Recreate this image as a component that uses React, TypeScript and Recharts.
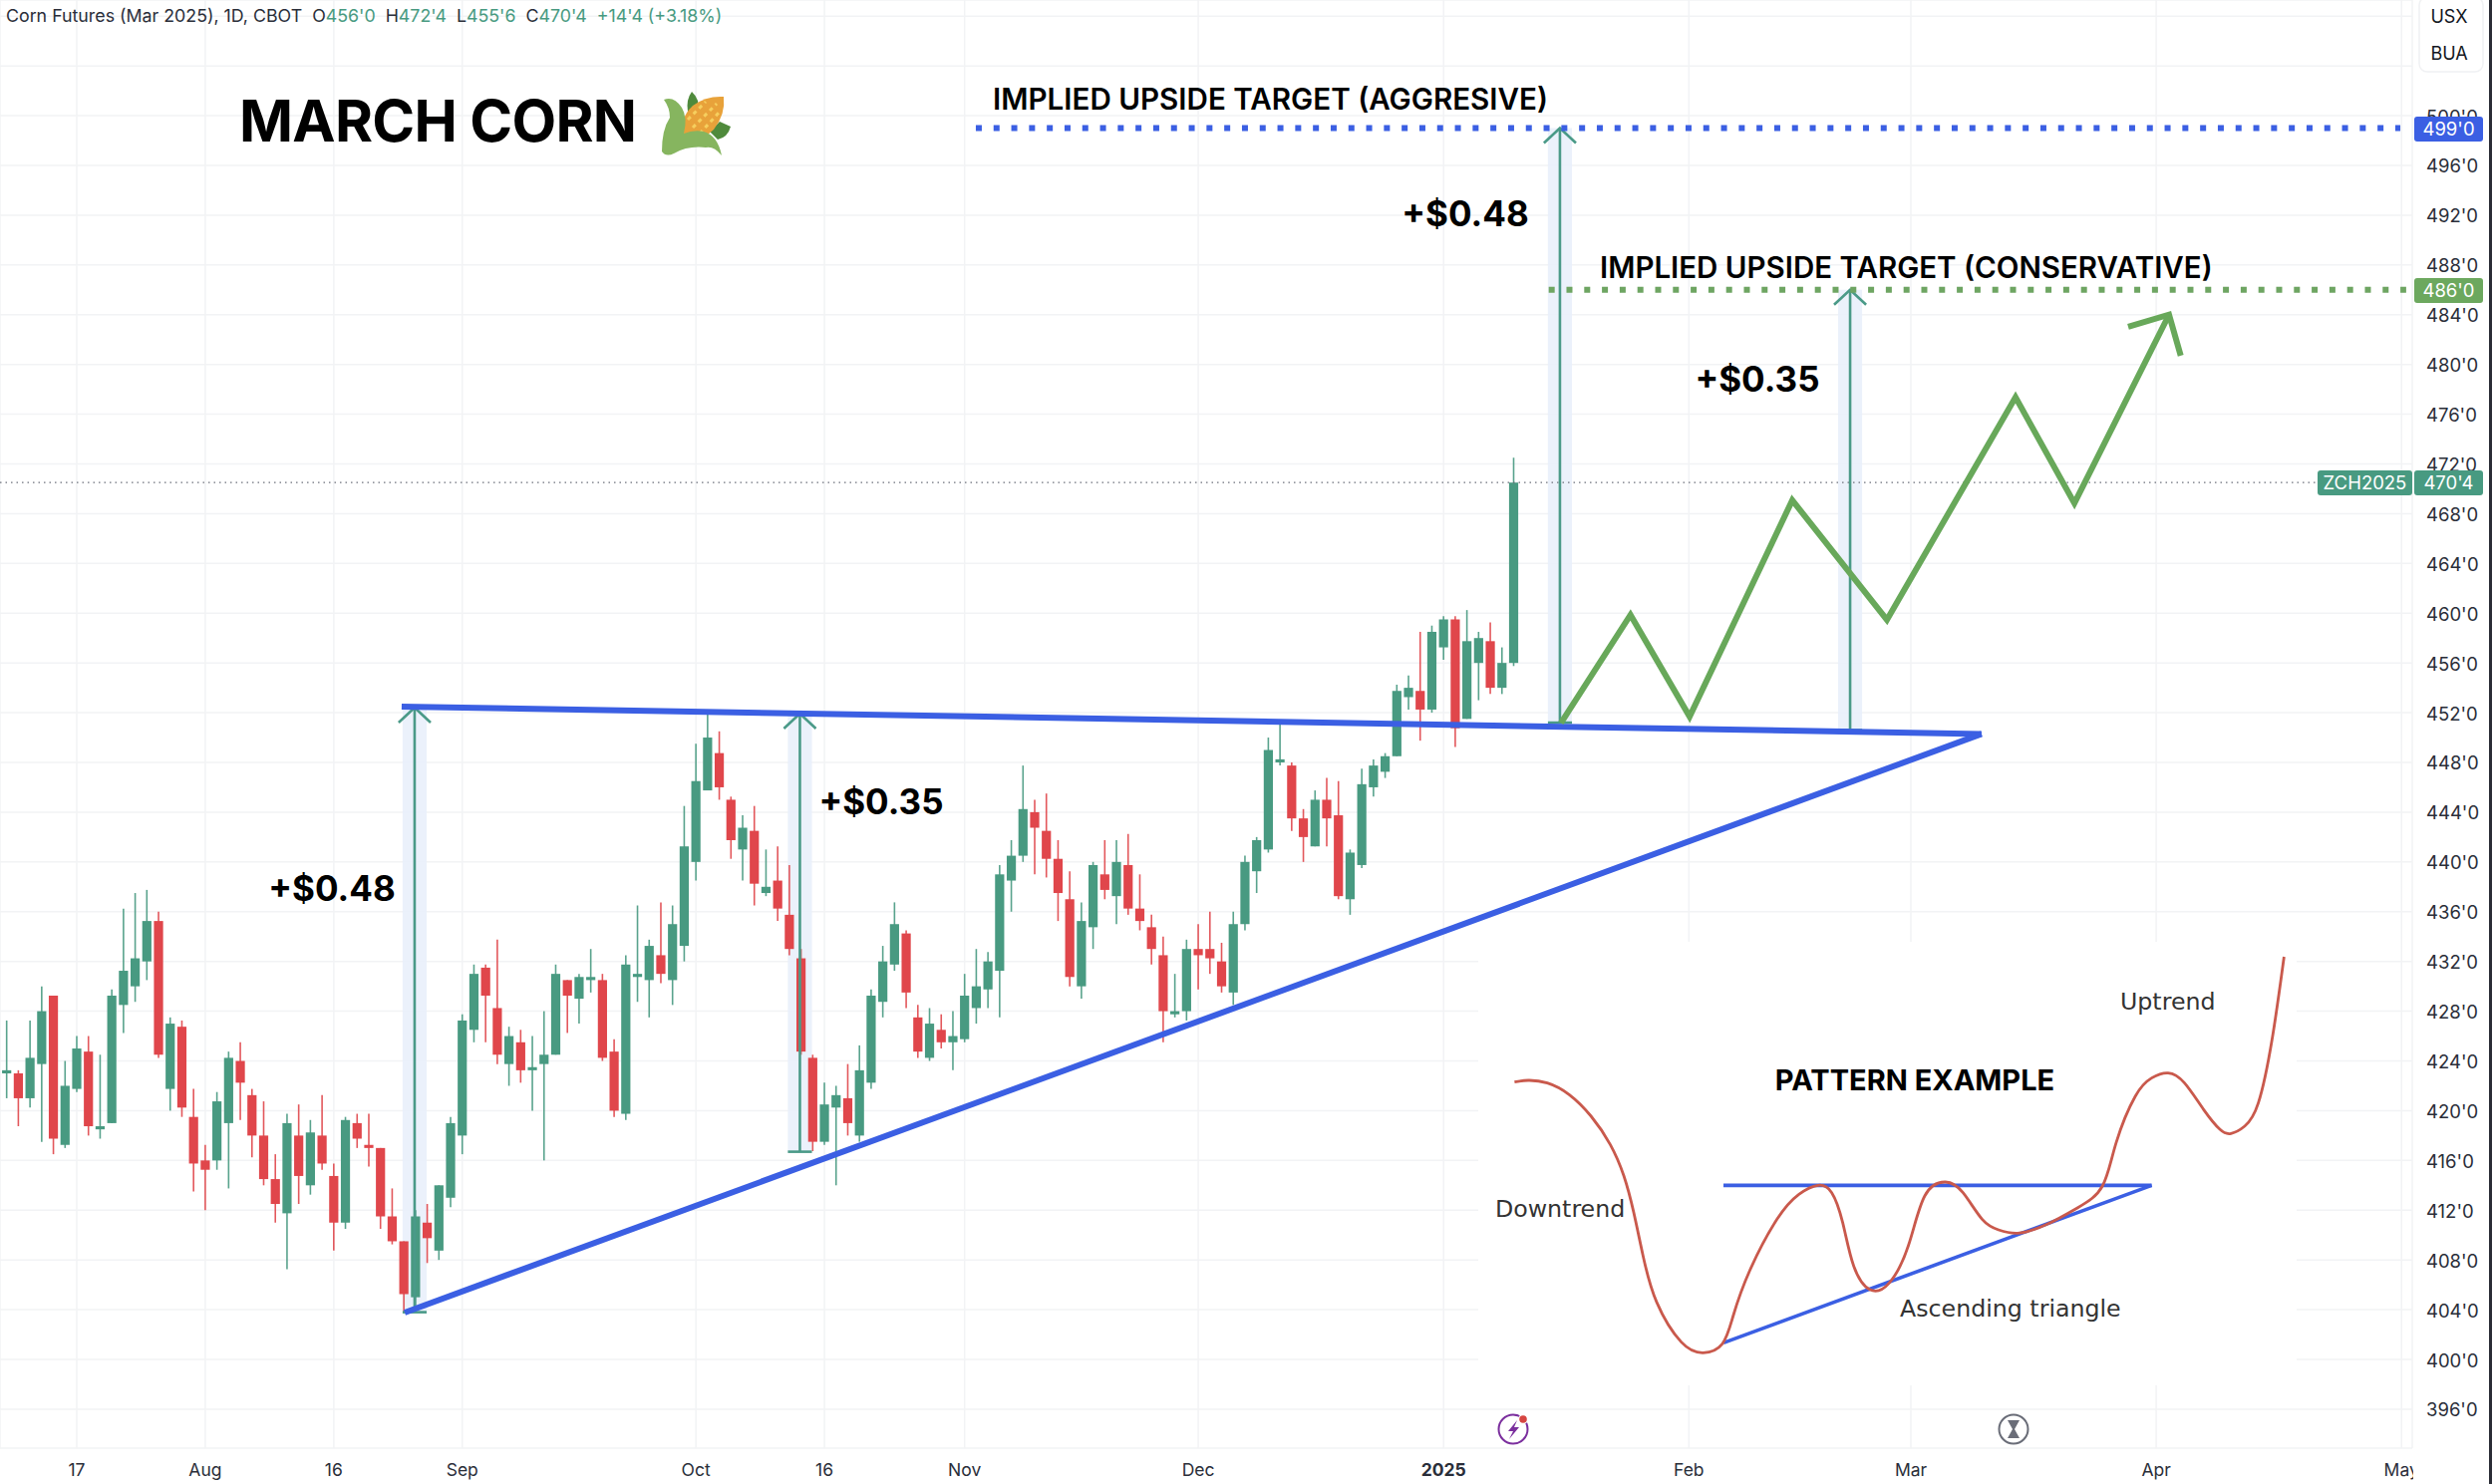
import React from 'react';
import { ComposedChart, LineChart, Line, Bar, XAxis, YAxis, CartesianGrid, ReferenceArea } from 'recharts';

const opens = [423,423,421,423.75,429.25,417.25,421.75,424.75,418.5,419,
428.5,430,432,435.25,421.75,426.75,419.5,416,416,419,
424,421.25,418,414.5,411.75,418,414,418,414.75,411,
419,417.25,417,411.5,409.5,405,411,408.75,413,418,
426.5,431.5,428.25,423.75,425.5,423.25,423.75,424.5,430.5,429,
430.5,430.5,424.75,419.75,430.75,430.5,432.5,430.5,433.25,440,
445.75,448.75,445,441,442.5,437.5,438.5,435.75,432.25,424.25,
417.5,420.25,421,418,422.25,428.75,431.75,434.25,427.5,424.25,
426.5,425.5,425.75,428.25,429.75,431.25,438.5,440.5,444,442.5,
440.25,437,430,434.75,439,437.25,439.75,436.25,434.75,432.5,
427.75,428,433,433,432,429.5,435,439.25,441,448,
447.75,443.5,441.25,445,443.75,437,439.75,446,447.25,448.5,
453.25,453.75,452.25,457.25,459.5,451.5,456,457.75,454,456];
const closes = [423.25,421,424.25,428,417.75,422,425,418.75,418.75,429.25,
431.25,432.25,435.25,424.5,427,420.25,415.75,415.25,420.75,424.25,
422.25,418,414.5,412.5,419,414.75,418.25,415.75,411,419.25,
417.75,417,411.5,409.5,405.25,411.5,409.75,414,419,427.25,
431,429.25,424.5,426,423.25,423.5,424.5,431,429.25,430.75,
430.75,424.25,420,431.75,431,433.25,431,435,441.25,446.5,
450,446,441.75,442.75,438.25,438,436.25,433,424.75,417.5,
420.5,421.25,419,423.25,429.25,432,435,429.5,424.75,427,
425.5,426,429.25,430,432,439,440.5,444.25,442.75,440.25,
437.5,430.75,435.25,439.75,437.75,440,436.25,435.25,433,428,
428,433,432.5,432.25,430,435,440,441.75,449,448.25,
443.5,442,445,443.5,437.25,440.75,446.25,447.75,448.5,453.75,
454,452.25,458.5,459.5,450.75,457.75,458,454,456,470.5];
const highs = [427.25,423.25,427.25,430,429.25,424,426,426,424.5,429.75,
436.25,437.5,437.75,436,427.5,427.25,421.75,417.25,421.5,424.75,
425.5,421.75,420.75,416.5,419.75,420.5,419.25,421.25,415.75,419.5,
419.75,419.75,417,413.75,409.5,412,412.5,414,419.5,427.75,
431.75,431.75,433.75,426.75,426.5,426,428,431.75,430.5,431,
433,431,425.75,432.5,436.5,433.75,436.75,436.5,444.5,449.5,
452,450.5,445.25,443.75,444.5,441,441.25,439.75,433,424.5,
422.25,422,423.75,425.25,429.75,433.25,436.75,434.5,428.5,428.25,
427.75,428,431,433,432.75,439.75,441.75,447.75,445,445.5,
441.75,439.25,436.75,440,441.75,441.75,442.25,439,435.75,434,
431,433.75,435,436,433.5,436,440.5,442,450,451.25,
448,444.25,445.75,446.75,446.5,441,447.5,448.25,448.75,454.25,
455,458.5,459,459.75,459.75,460.25,458.5,459.25,457.25,472.5];
const lows = [421,418.75,420.25,417.5,416.5,417,421.5,418,417.75,419,
426.25,428.75,430.5,424.25,420,419.5,413.5,412,415.25,413.75,
419.25,416.25,414,411,407.25,412.5,413.25,415.25,408.75,410.5,
417,415.5,410.5,409.25,403.75,404,407.75,408,412.25,416.5,
425.5,425.5,423.75,422,422.25,420,416,424.5,426.25,427,
429.5,424,419.5,419.25,428.75,427.5,430.25,428.5,432,438.5,
445.75,445,440.25,438.5,436.5,437.25,435.25,432.5,424.5,416.75,
417.25,414,418,417.5,421.75,427.5,431.25,428.25,424.25,424,
425,423.25,425.5,427,428.25,427.5,436,440,439,438.75,
435.25,430,429,433,437,435,435.75,434.5,431.75,425.5,
427.5,427.25,429.75,431,429.5,428.5,434.5,437.5,440.75,447.75,
442.5,440,441.25,441.25,437,435.75,439.5,445.25,446.75,448.5,
452.25,449.75,452,456.25,449.25,451.5,453,453.5,453.5,455.75];

const candles = opens.map((open, idx) => ({ idx, open, close: closes[idx], high: highs[idx], low: lows[idx] }));

const timeTicks = [6, 17, 28, 39, 59, 70, 82, 102, 123, 144, 163, 184, 205];
const timeLabels = ['17', 'Aug', '16', 'Sep', 'Oct', '16', 'Nov', 'Dec', '2025', 'Feb', 'Mar', 'Apr', 'May'];
const priceTicks = [396,400,404,408,412,416,420,424,428,432,436,440,444,448,452,456,460,464,468,472,476,480,484,488,492,496,500,504,508];
const topLabelledPrice = 500;

// Drawn annotations, in bar index and price
const resistance = [{ idx: 33.81, p: 452.49 }, { idx: 169.05, p: 450.29 }];
const support = [{ idx: 34.07, p: 403.77 }, { idx: 169.05, p: 450.29 }];
const zigzag = [
  { idx: 133.05, p: 451.17 }, { idx: 139, p: 459.86 }, { idx: 144.06, p: 451.69 }, { idx: 152.85, p: 469.08 },
  { idx: 160.95, p: 459.46 }, { idx: 171.96, p: 477.36 }, { idx: 177, p: 468.84 }, { idx: 185.1, p: 484 },
];
const zigzagHead = [{ idx: 181.6, p: 483.02 }, { idx: 185.1, p: 484 }, { idx: 186.1, p: 480.7 }];
const aggressiveTarget = [{ idx: 82.96, p: 499 }, { idx: 204.9, p: 499 }];
const conservativeTarget = [{ idx: 132, p: 486 }, { idx: 205.4, p: 486 }];
const lastPrice = [{ idx: -0.57, p: 470.5 }, { idx: 197.8, p: 470.5 }];
const measures = [
  { idx: 34.92, top: 452.4, bottom: 403.8 },
  { idx: 67.9, top: 451.93, bottom: 416.7 },
  { idx: 132.96, top: 499, bottom: 451.2 },
  { idx: 157.8, top: 486, bottom: 450.6 },
];

// Inset sketch
const sketchX = [90,115,150,190,230,265,290,308,325,350,395,435,470,490,520,570,610,645,670,690,710,740,775,810,840,878,910,945,975,1010,1060,1120,1165,1190,1225,1255,1285,1315,1350,1380,1400,1425,1450,1475,1497];
const sketchY = [407,402,410,445,510,595,690,800,930,1070,1190,1222,1195,1110,975,820,745,718,740,830,960,1032,1012,900,750,708,740,820,852,862,838,785,720,590,450,395,380,410,490,550,562,540,470,280,30];
const sketch = sketchX.map((x, i) => ({ x, y: sketchY[i] }));
const sketchTop = [{ x: 472, y: 718 }, { x: 1255, y: 718 }];
const sketchBase = [{ x: 472, y: 1192 }, { x: 1255, y: 718 }];

const GREEN = '#489a81';
const RED = '#e0464b';
const BLUE = '#3b5fe3';
const DRAW_GREEN = '#68a85a';
const TEAL = '#4a9a88';
const FONT = 'Inter, sans-serif';
const BODY_WIDTH = 9.2;

function Candle(props: any) {
  const { x, y, width, height, payload } = props;
  const { open, close, high, low } = payload;
  const perUnit = height / (high - low || 1);
  const at = (v: number) => y + (high - v) * perUnit;
  const color = close >= open ? GREEN : RED;
  const top = at(Math.max(open, close));
  const bottom = at(Math.min(open, close));
  const cx = x + (width || 0) / 2;
  return (
    <g>
      <line x1={cx} x2={cx} y1={y} y2={y + height} stroke={color} strokeWidth={1.6} opacity={0.9} />
      <rect x={cx - BODY_WIDTH / 2} y={top} width={BODY_WIDTH} height={Math.max(bottom - top, 2)} fill={color} />
    </g>
  );
}

function TimeTick(props: any) {
  const { x, payload } = props;
  const label = timeLabels[timeTicks.indexOf(payload.value)];
  return (
    <text x={x} y={1481} textAnchor="middle" fontFamily={FONT} fontSize={17.5} fontWeight={label === '2025' ? 700 : 400} fill="#2a2e39">
      {label}
    </text>
  );
}

function PriceTick(props: any) {
  const { x, y, payload } = props;
  if (payload.value > topLabelledPrice) return <g />;
  return (
    <text x={x} y={y + 7.5} fontFamily={FONT} fontSize={18.5} fill="#2a2e39">{`${payload.value}'0`}</text>
  );
}

const seg = (key: string, data: any[], stroke: string, strokeWidth: number, extra: any = {}) => (
  <Line key={key} data={data} dataKey="p" type="linear" dot={false} stroke={stroke} strokeWidth={strokeWidth} isAnimationActive={false} legendType="none" {...extra} />
);

function Pill({ x, y, w, h, fill, text }: any) {
  return (
    <g>
      <rect x={x} y={y} width={w} height={h} rx={3} fill={fill} />
      <text x={x + w / 2} y={y + h / 2 + 6.5} textAnchor="middle" fontFamily={FONT} fontSize={18.5} fill="#fff">{text}</text>
    </g>
  );
}

function Note({ x, y, size = 35, weight = 700, anchor = 'middle', fill = '#000', family = FONT, spacing = 0, children }: any) {
  return <text x={x} y={y} textAnchor={anchor} fontFamily={family} fontSize={size} fontWeight={weight} fill={fill} letterSpacing={spacing}>{children}</text>;
}

export default function App() {
  return (
    <div style={{ position: 'absolute', left: 0, top: 0, width: 2500, height: 1489, background: '#fff', overflow: 'hidden' }}>
      <ComposedChart width={2500} height={1489} data={candles} margin={{ top: 0, right: 0, bottom: 0, left: 0 }}>
        <CartesianGrid stroke="#f2f3f5" strokeWidth={1.5} />
        <XAxis dataKey="idx" type="number" domain={[-0.5717, 205.92]} allowDataOverflow ticks={timeTicks} interval={0} height={36} axisLine={false} tickLine={false} tick={<TimeTick />} />
        <YAxis orientation="right" type="number" domain={[392.87, 509.3]} allowDataOverflow ticks={priceTicks} interval={0} width={80} axisLine={false} tickLine={false} tickSize={0} tickMargin={14} tick={<PriceTick />} />
        {measures.map((m) => (
          <ReferenceArea key={`band${m.idx}`} x1={m.idx - 1.03} x2={m.idx + 1.03} y1={m.bottom} y2={m.top} fill="#e9effb" fillOpacity={0.9} stroke="none" />
        ))}
        {seg('last', lastPrice, '#6b6f7a', 1.3, { strokeDasharray: '1.5 4' })}
        {measures.map((m) => seg(`shaft${m.idx}`, [{ idx: m.idx, p: m.bottom }, { idx: m.idx, p: m.top }], TEAL, 2.6))}
        {measures.map((m) => seg(`head${m.idx}`, [{ idx: m.idx - 1.37, p: m.top - 1.2 }, { idx: m.idx, p: m.top }, { idx: m.idx + 1.37, p: m.top - 1.2 }], TEAL, 2.6))}
        {measures.map((m) => seg(`cap${m.idx}`, [{ idx: m.idx - 1.03, p: m.bottom }, { idx: m.idx + 1.03, p: m.bottom }], TEAL, 2.6))}
        {seg('resistance', resistance, BLUE, 6)}
        {seg('support', support, BLUE, 6)}
        <Bar dataKey={(d: any) => [d.low, d.high]} barSize={9} shape={<Candle />} isAnimationActive={false} legendType="none" />
        {seg('zigzag', zigzag, DRAW_GREEN, 6, { strokeLinejoin: 'miter' })}
        {seg('zigzagHead', zigzagHead, DRAW_GREEN, 6, { strokeLinejoin: 'miter' })}
        {seg('aggressive', aggressiveTarget, BLUE, 6, { strokeDasharray: '6 11.8' })}
        {seg('conservative', conservativeTarget, '#6ea562', 6, { strokeDasharray: '6 11.8' })}
      </ComposedChart>

      <div style={{ position: 'absolute', left: 1483, top: 945, width: 821, height: 445, background: '#fff' }}>
        <LineChart width={821} height={445} data={sketch} margin={{ top: 0, right: 0, bottom: 0, left: 0 }}>
          <XAxis dataKey="x" type="number" domain={[23.7, 1520]} allowDataOverflow hide />
          <YAxis type="number" domain={[-15, 1320]} reversed allowDataOverflow hide />
          <Line data={sketchTop} dataKey="y" type="linear" dot={false} stroke={BLUE} strokeWidth={3.6} isAnimationActive={false} />
          <Line data={sketchBase} dataKey="y" type="linear" dot={false} stroke={BLUE} strokeWidth={3.6} isAnimationActive={false} />
          <Line dataKey="y" type="natural" dot={false} stroke="#c9594c" strokeWidth={2.8} isAnimationActive={false} />
        </LineChart>
      </div>

      <svg width={2500} height={1489} style={{ position: 'absolute', left: 0, top: 0, pointerEvents: 'none' }}>
        <text x={6} y={22} fontFamily={FONT} fontSize={17.8} fill="#2a2e39" xmlSpace="preserve">
          <tspan>Corn Futures (Mar 2025), 1D, CBOT  O</tspan>
          <tspan fill={GREEN}>456'0</tspan><tspan>  H</tspan>
          <tspan fill={GREEN}>472'4</tspan><tspan>  L</tspan>
          <tspan fill={GREEN}>455'6</tspan><tspan>  C</tspan>
          <tspan fill={GREEN}>470'4  +14'4 (+3.18%)</tspan>
        </text>

        <Note x={240} y={142} size={58} weight={700} anchor="start" spacing={-0.7}>MARCH CORN</Note>
        <g>
          <path d="M694 92 Q703 100 700 112 L690 112 Q688 100 694 92Z" fill="#4f8a3c" />
          <path d="M722 122 L733 127 Q730 138 720 140 L712 132Z" fill="#4f8a3c" />
          <path d="M685 141 Q680 120 695 106 Q708 96 726 97 Q728 115 716 130 Q703 143 685 141Z" fill="#e8a23a" />
          <path d="M695 128 L719 104 M690 120 L708 102 M702 134 L722 112" stroke="#f6cf5e" strokeWidth={3} strokeDasharray="4 4" fill="none" />
          <path d="M666 100 Q676 96 684 108 Q690 118 686 134 Q696 130 706 132 Q720 136 724 156 Q716 146 708 148 Q690 146 676 154 Q668 158 664 152 Q664 130 672 118 Q672 108 666 100Z" fill="#86b55f" />
        </g>

        <Note x={996} y={110} size={29.6} weight={600} anchor="start">IMPLIED UPSIDE TARGET (AGGRESIVE)</Note>
        <Note x={1605} y={279} size={29.5} weight={600} anchor="start">IMPLIED UPSIDE TARGET (CONSERVATIVE)</Note>
        <Note x={1470} y={227}>+$0.48</Note>
        <Note x={1763} y={393}>+$0.35</Note>
        <Note x={333} y={904}>+$0.48</Note>
        <Note x={884} y={817}>+$0.35</Note>

        <Note x={1921} y={1094} size={29} weight={700}>PATTERN EXAMPLE</Note>
        <Note x={1500} y={1221} size={23.7} weight={400} anchor="start" fill="#333" family="'DejaVu Sans', sans-serif">Downtrend</Note>
        <Note x={1906} y={1321} size={23.7} weight={400} anchor="start" fill="#333" family="'DejaVu Sans', sans-serif">Ascending triangle</Note>
        <Note x={2127} y={1013} size={23.7} weight={400} anchor="start" fill="#333" family="'DejaVu Sans', sans-serif">Uptrend</Note>

        <rect x={2427} y={-3} width={64} height={75} rx={8} fill="#fff" stroke="#f0f1f3" strokeWidth={1.5} />
        <text x={2457} y={23} textAnchor="middle" fontFamily={FONT} fontSize={18} fill="#131722">USX</text>
        <text x={2457} y={60} textAnchor="middle" fontFamily={FONT} fontSize={18} fill="#131722">BUA</text>

        <Pill x={2422} y={117} w={69} h={25} fill={BLUE} text="499'0" />
        <Pill x={2422} y={279} w={69} h={25} fill="#6ca85e" text="486'0" />
        <Pill x={2325} y={472} w={95} h={25} fill={GREEN} text="ZCH2025" />
        <Pill x={2422} y={472} w={69} h={25} fill={GREEN} text="470'4" />

        <g>
          <circle cx={1518} cy={1434} r={14.5} fill="#fff" stroke="#7b2f9e" strokeWidth={2} />
          <path d="M1522 1425 L1513 1436 L1518 1436 L1514 1444 L1524 1432 L1519 1432Z" fill="#7b2f9e" />
          <circle cx={1528} cy={1424} r={5} fill="#fff" />
          <circle cx={1528} cy={1424} r={3.8} fill="#d64541" />
        </g>
        <g>
          <circle cx={2020} cy={1434} r={14.5} fill="#fff" stroke="#6a6d78" strokeWidth={2} />
          <path d="M2014 1425 H2026 L2021 1434 L2026 1443 H2014 L2019 1434Z" fill="#6a6d78" />
        </g>

        <rect x={2421} y={1456} width={79} height={33} fill="#fff" />
        <rect x={2497} y={0} width={3} height={1489} fill="#2b2d36" />
      </svg>
    </div>
  );
}
